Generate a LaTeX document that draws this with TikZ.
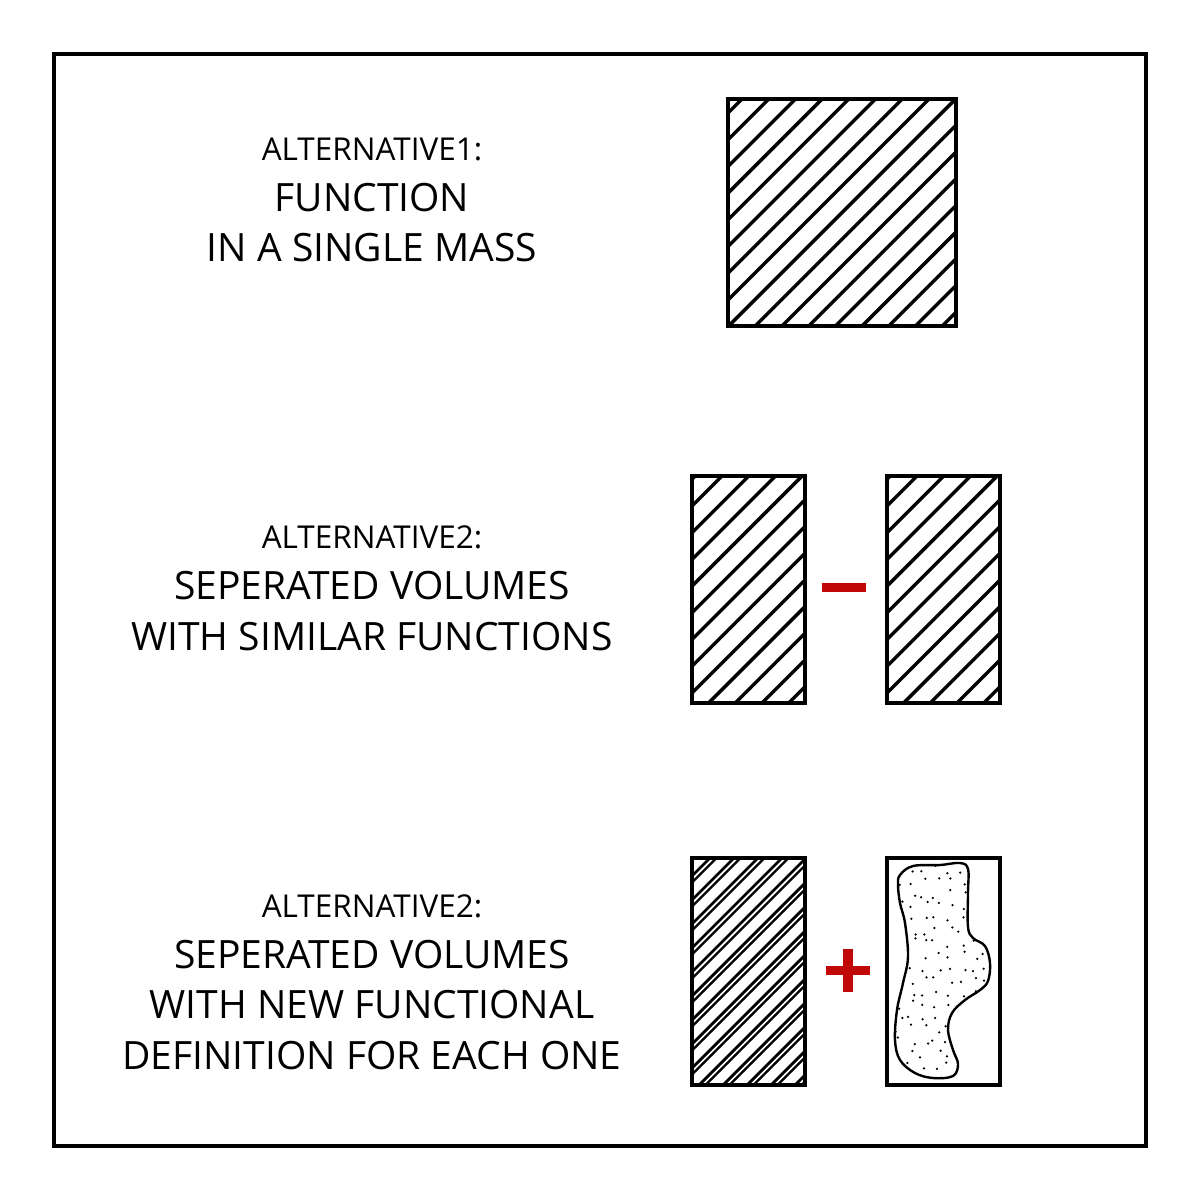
\documentclass[tikz,border=0pt]{standalone}
\usepackage{fontspec}
\setmainfont{Open Sans}
\definecolor{signred}{RGB}{192,8,8}
\begin{document}
\begin{tikzpicture}[x=1pt,y=-1pt,
  frame/.style={line width=3.2pt},
  box/.style={draw, line width=4pt},
  hatch/.style={line width=3.4pt},
  hatchA/.style={line width=2.8pt},
  hatchB/.style={line width=2.3pt},
  blobline/.style={line width=2.4pt},
  lbl/.style={anchor=base, font=\fontsize{31.5}{31.5}\selectfont, inner sep=0pt},
  big/.style={anchor=base, font=\fontsize{39}{39}\selectfont, inner sep=0pt},
  sign/.style={fill=signred, draw=none}]
\useasboundingbox (0,0) rectangle (1200,1200);
\draw[frame] (54,54) rectangle (1146,1146);

% texts
\node[lbl] (a1) at (372,160) {ALTERNATIVE1:};
\node[big] (a1b) at (372,211) {FUNCTION};
\node[big] (a1c) at (372,261) {IN A SINGLE MASS};

\node[lbl] (a2) at (372,548) {ALTERNATIVE2:};
\node[big] (a2b) at (372,599) {SEPERATED VOLUMES};
\node[big] (a2c) at (372,650) {WITH SIMILAR FUNCTIONS};

\node[lbl] (a3) at (372,917) {ALTERNATIVE2:};
\node[big] (a3b) at (372,968) {SEPERATED VOLUMES};
\node[big] (a3c) at (372,1018) {WITH NEW FUNCTIONAL};
\node[big] (a3d) at (372,1069) {DEFINITION FOR EACH ONE};

% square
\begin{scope}
  \clip (728,99) rectangle (956,326);
  \foreach \c in {841,867.7,...,1300}
    \draw[hatch] ({\c-340},340) -- ({\c-85},85);
\end{scope}
\draw[box] (728,99) rectangle (956,326);

% section 2 rectangles
\begin{scope}
  \clip (692,476) rectangle (805,703);
  \foreach \c in {1144.6,1171.3,...,1520}
    \draw[hatch] ({\c-715},715) -- ({\c-465},465);
\end{scope}
\draw[box] (692,476) rectangle (805,703);
\begin{scope}
  \clip (887,476) rectangle (1000,703);
  \foreach \c in {1339.6,1366.3,...,1715}
    \draw[hatch] ({\c-715},715) -- ({\c-465},465);
\end{scope}
\draw[box] (887,476) rectangle (1000,703);
\fill[sign] (822,583) rectangle (866,592);

% section 3 left: double hatching
\begin{scope}
  \clip (692,858) rectangle (805,1085);
  \foreach \c in {1520,1544,...,1920}{
    \draw[hatchA] ({\c-1100},1100) -- ({\c-845},845);
    \draw[hatchB] ({\c+6.5-1100},1100) -- ({\c+6.5-845},845);
  }
\end{scope}
\draw[box] (692,858) rectangle (805,1085);

% plus
\fill[sign] (826,966) rectangle (870,975);
\fill[sign] (843,949) rectangle (853,992);

% section 3 right: blob
\draw[box] (887,858) rectangle (1000,1085);
\begin{scope}
  \clip plot[smooth cycle, tension=0.6] coordinates {
    (900,875) (913,866) (940,865) (960,863) (968,869) (968,893) (968,927)
    (973,938) (985,946) (990,963) (988,981) (980,990) (965,1000) (952,1013)
    (948,1030) (953,1050) (958,1064) (953,1076) (933,1078) (915,1073)
    (900,1060) (895,1040) (897,1010) (903,983) (908,957) (905,923)
    (900,903) (898,885)};
  \pgfmathsetseed{12}
  \foreach \gx in {0,...,7}{
    \foreach \gy in {0,...,17}{
      \pgfmathsetmacro\dx{899+12.5*\gx+9*(rnd-0.5)}
      \pgfmathsetmacro\dy{869+12.3*\gy+9*(rnd-0.5)}
      \fill (\dx,\dy) circle[radius=1.25];
    }
  }
\end{scope}
\draw[blobline] plot[smooth cycle, tension=0.6] coordinates {
    (900,875) (913,866) (940,865) (960,863) (968,869) (968,893) (968,927)
    (973,938) (985,946) (990,963) (988,981) (980,990) (965,1000) (952,1013)
    (948,1030) (953,1050) (958,1064) (953,1076) (933,1078) (915,1073)
    (900,1060) (895,1040) (897,1010) (903,983) (908,957) (905,923)
    (900,903) (898,885)};
\end{tikzpicture}
\end{document}
